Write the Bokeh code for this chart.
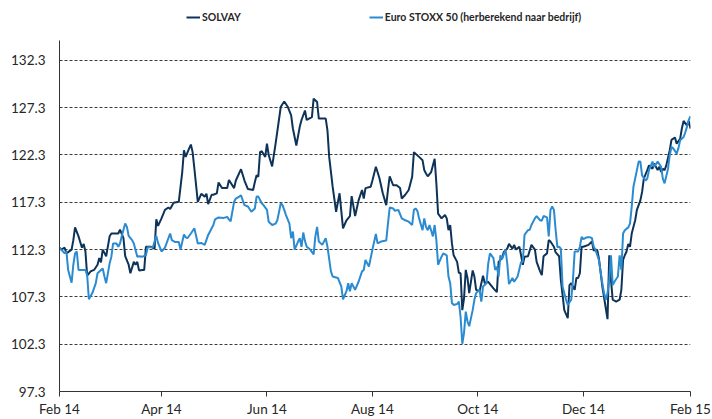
import pandas as pd
from bokeh.plotting import figure
from bokeh.models import Range1d, FixedTicker, Legend, LegendItem, DatetimeTickFormatter
from bokeh.embed import file_html
from bokeh.resources import INLINE

# ---------------- data ----------------
START = "2014-02-01"
END = "2015-02-01"

series_names = ["SOLVAY", "Euro STOXX 50 (herberekend naar bedrijf)"]

# days since START
solvay_days = [0, 1, 3, 4, 7, 8, 9, 11, 13, 14, 15, 16, 18, 20, 22, 23, 24, 25, 27, 29,
               30, 34, 35, 37, 38, 40, 41, 43, 44, 45, 46, 48, 49, 50, 53, 55, 56, 57, 59, 61,
               63, 64, 66, 69, 71, 72, 73, 75, 76, 77, 78, 80, 82, 84, 85, 86, 88, 89, 91, 92,
               94, 97, 98, 101, 102, 105, 107, 109, 112, 113, 114, 115, 116, 117, 119, 120, 121, 123, 125, 128,
               130, 132, 134, 135, 137, 139, 140, 142, 143, 146, 147, 149, 150, 154, 155, 156, 158, 160, 162, 164,
               166, 168, 169, 171, 173, 175, 176, 177, 180, 181, 183, 185, 187, 189, 190, 191, 193, 195, 197, 198,
               200, 202, 204, 205, 208, 210, 211, 212, 213, 215, 217, 218, 219, 221, 223, 224, 225, 226, 227, 228,
               230, 231, 232, 233, 234, 235, 236, 237, 239, 240, 241, 243, 245, 246, 248, 251, 253, 254, 256, 257,
               259, 260, 262, 263, 264, 266, 267, 268, 269, 271, 273, 275, 276, 278, 279, 280, 282, 283, 284, 286,
               287, 289, 290, 292, 294, 295, 296, 298, 299, 300, 301, 302, 303, 306, 308, 309, 311, 312, 314, 316,
               317, 318, 319, 320, 322, 324, 325, 326, 327, 328, 329, 330, 331, 333, 334, 336, 337, 338, 340, 341,
               343, 344, 346, 347, 348, 349, 350, 351, 353, 354, 356, 357, 359, 360, 361, 363, 364, 365]
solvay = [112.5, 112.3, 112.5, 111.9, 112.3, 113.3, 114.65, 113.7, 112.5, 112.9, 112.1, 109.55, 110.0, 110.15, 110.7, 111.4, 110.95, 112.3, 111.6, 113.7,
          114.0, 114.0, 114.4, 113.5, 111.6, 110.7, 109.8, 111.0, 110.7, 111.0, 110.1, 110.15, 110.15, 112.6, 112.6, 112.4, 115.5, 114.8, 115.6, 116.5,
          116.75, 116.6, 117.25, 117.35, 120.5, 122.8, 122.1, 123.0, 123.4, 122.6, 120.9, 117.35, 118.2, 117.9, 118.2, 117.1, 118.1, 118.1, 118.25, 119.4,
          118.8, 118.8, 119.65, 118.8, 119.6, 120.8, 119.6, 118.7, 118.6, 119.45, 120.15, 120.0, 122.6, 122.7, 122.1, 123.5, 122.3, 121.1, 123.5, 127.4,
          127.95, 127.4, 126.5, 125.1, 123.3, 125.3, 126.0, 127.0, 126.0, 126.3, 128.25, 127.9, 126.15, 126.15, 124.9, 122.1, 118.95, 116.3, 118.25, 114.55,
          115.4, 115.85, 117.95, 115.85, 117.5, 118.6, 117.7, 118.8, 118.95, 119.6, 121.05, 119.9, 118.25, 117.0, 118.6, 120.05, 119.1, 119.1, 118.8, 117.7,
          118.1, 118.6, 120.0, 122.6, 122.1, 121.75, 120.7, 120.35, 120.05, 120.5, 121.9, 119.3, 116.1, 115.6, 115.95, 115.6, 114.35, 114.9, 112.95, 111.7,
          111.0, 109.85, 109.8, 105.9, 107.15, 110.15, 109.3, 107.7, 110.1, 109.45, 108.05, 107.9, 109.55, 108.75, 108.9, 108.2, 107.8, 111.0, 111.4, 112.05,
          112.4, 112.9, 112.4, 112.8, 112.3, 112.6, 111.7, 110.7, 111.55, 111.6, 112.8, 112.3, 111.0, 110.0, 109.6, 111.6, 111.9, 113.3, 113.15, 112.6,
          112.0, 111.6, 109.1, 105.9, 105.05, 108.55, 108.75, 108.05, 109.3, 109.3, 109.8, 112.6, 112.6, 112.8, 113.15, 112.2, 112.3, 111.4, 108.4, 106.1,
          104.95, 111.7, 109.1, 107.0, 106.8, 107.0, 108.05, 111.2, 111.7, 112.1, 112.9, 112.6, 114.0, 115.4, 116.5, 117.5, 118.4, 119.8, 120.7, 121.2,
          120.85, 121.4, 120.7, 121.05, 120.5, 120.85, 120.7, 121.2, 122.8, 123.9, 124.15, 123.5, 124.0, 125.1, 125.9, 125.4, 125.9, 125.1]

stoxx_days = [0, 1, 3, 4, 5, 7, 8, 9, 10, 11, 13, 15, 16, 17, 19, 21, 22, 24, 25, 26,
              27, 29, 30, 31, 33, 34, 35, 36, 38, 39, 40, 42, 43, 45, 46, 48, 50, 51, 54, 56,
              57, 59, 61, 64, 65, 67, 69, 70, 72, 73, 74, 76, 78, 80, 82, 84, 86, 89, 90, 92,
              95, 97, 98, 99, 101, 102, 104, 105, 106, 107, 109, 111, 113, 114, 115, 117, 118, 120, 121, 123,
              125, 126, 128, 129, 130, 131, 133, 134, 135, 136, 138, 139, 140, 141, 142, 143, 145, 147, 148, 149,
              150, 152, 154, 155, 157, 158, 161, 163, 164, 166, 167, 168, 169, 171, 173, 175, 176, 177, 179, 181,
              183, 184, 186, 189, 190, 191, 193, 194, 196, 198, 200, 202, 204, 205, 206, 207, 208, 210, 211, 212,
              213, 214, 216, 217, 218, 219, 221, 222, 224, 225, 226, 227, 228, 230, 231, 232, 233, 234, 235, 236,
              237, 239, 240, 241, 243, 244, 245, 247, 248, 249, 251, 252, 253, 254, 255, 256, 258, 259, 260, 262,
              263, 265, 267, 268, 269, 271, 272, 273, 275, 276, 278, 279, 280, 282, 283, 284, 285, 286, 287, 288,
              289, 290, 291, 293, 294, 296, 297, 298, 300, 301, 302, 303, 305, 307, 308, 309, 310, 312, 314, 315,
              316, 317, 318, 319, 320, 321, 323, 324, 325, 326, 327, 329, 330, 331, 332, 334, 335, 336, 337, 339,
              340, 341, 343, 344, 346, 348, 349, 350, 352, 353, 354, 355, 357, 358, 359, 361, 362, 363, 364, 365]
stoxx = [112.5, 112.3, 111.9, 112.1, 110.15, 108.8, 110.7, 111.9, 112.1, 110.15, 110.15, 110.15, 109.6, 107.05, 107.7, 108.75, 109.8, 110.15, 110.3, 109.45,
         108.75, 110.85, 111.55, 112.95, 112.95, 112.6, 112.95, 113.7, 115.05, 114.7, 113.75, 113.3, 112.95, 111.55, 111.6, 111.55, 111.7, 112.55, 112.55, 113.75,
         113.0, 112.1, 112.5, 114.0, 113.3, 113.1, 113.1, 112.3, 113.9, 113.6, 113.5, 114.0, 114.55, 112.95, 113.0, 112.8, 113.85, 114.9, 115.5, 115.7,
         115.65, 115.75, 115.5, 115.3, 117.35, 117.7, 117.9, 118.05, 117.5, 117.0, 116.85, 116.3, 116.65, 117.9, 117.9, 117.2, 117.0, 116.5, 115.25, 114.9,
         115.05, 115.4, 117.2, 117.0, 116.5, 115.95, 115.05, 113.5, 114.2, 112.3, 113.15, 113.5, 112.6, 114.1, 113.2, 112.6, 112.3, 111.8, 113.7, 114.7,
         113.15, 112.8, 113.5, 112.6, 110.0, 109.45, 109.3, 108.4, 107.05, 107.9, 108.75, 107.9, 108.75, 108.05, 108.9, 110.0, 110.15, 111.2, 110.5, 112.3,
         113.95, 112.95, 113.15, 113.25, 115.05, 116.75, 116.65, 116.4, 116.5, 115.6, 115.4, 115.25, 114.9, 116.5, 116.65, 116.4, 115.6, 114.35, 115.6, 114.7,
         114.35, 114.9, 113.7, 114.9, 113.3, 110.7, 111.55, 111.9, 111.7, 109.45, 108.75, 106.65, 106.45, 106.55, 106.8, 105.2, 102.35, 103.5, 105.75, 104.7,
         104.2, 105.9, 107.0, 107.7, 108.05, 106.8, 108.4, 108.75, 110.85, 111.9, 111.4, 110.15, 110.5, 109.45, 111.7, 111.3, 112.3, 110.85, 108.65, 109.3,
         108.9, 109.45, 111.0, 111.0, 113.85, 114.35, 114.4, 114.9, 115.6, 115.85, 115.4, 115.35, 115.85, 115.7, 113.7, 116.5, 116.85, 116.5, 114.35, 112.55,
         112.6, 112.4, 108.4, 107.0, 106.45, 107.0, 109.1, 112.1, 112.1, 112.6, 113.65, 113.4, 113.6, 113.6, 113.5, 112.6, 112.3, 111.2, 108.75, 107.7,
         107.0, 107.7, 109.1, 111.7, 108.55, 108.9, 109.45, 111.7, 110.15, 114.0, 114.35, 114.65, 115.05, 116.85, 118.95, 120.7, 121.6, 121.6, 120.15, 119.6,
         119.8, 120.7, 121.6, 121.05, 121.6, 121.05, 119.8, 119.3, 120.85, 122.3, 123.15, 123.0, 122.45, 123.0, 123.85, 124.2, 124.7, 125.3, 126.0, 126.4]

y_ticks = [97.3, 102.3, 107.3, 112.3, 117.3, 122.3, 127.3, 132.3]
y_labels = ["97.3", "102.3", "107.3", "112.3", "117.3", "122.3", "127.3", "132.3"]
y_axis_top = 134.4
x_tick_dates = ["2014-02-01", "2014-04-01", "2014-06-01", "2014-08-01",
                "2014-10-01", "2014-12-01", "2015-02-01"]
x_tick_labels = ["Feb 14", "Apr 14", "Jun 14", "Aug 14", "Oct 14", "Dec 14", "Feb 15"]

# ---------------- styles ----------------
DARK = "#0e3359"
LIGHT = "#2b8bd1"
FONT = "Lato"
TEXT = "#262626"

base = pd.Timestamp(START)
s_dates = base + pd.to_timedelta(solvay_days, unit="D")
e_dates = base + pd.to_timedelta(stoxx_days, unit="D")

# frame reaches the top of the canvas so the legend can sit inside it;
# the y axis line itself is bounded to the value range
p = figure(width=712, height=419, x_axis_type="datetime",
           output_backend="svg", toolbar_location=None,
           x_range=Range1d(base, pd.Timestamp(END)),
           y_range=Range1d(97.3, 138.63),
           min_border_left=59, min_border_right=22,
           min_border_top=0, min_border_bottom=27)
p.outline_line_color = None
p.background_fill_color = "white"
p.border_fill_color = "white"

r1 = p.line(s_dates, solvay, line_color=DARK, line_width=2)
r2 = p.line(e_dates, stoxx, line_color=LIGHT, line_width=2)

# x axis
x_ticks_ms = [pd.Timestamp(d).value // 10**6 for d in x_tick_dates]
p.xaxis.ticker = FixedTicker(ticks=x_ticks_ms)
p.xaxis.formatter = DatetimeTickFormatter(days="%b %y", months="%b %y", years="%b %y")
p.xaxis.major_label_overrides = {t: l for t, l in zip(x_ticks_ms, x_tick_labels)}
p.xaxis.major_tick_out = 5
p.xaxis.major_tick_in = 0
p.xaxis.minor_tick_out = 0
p.xaxis.minor_tick_in = 0
p.xaxis.major_label_standoff = 4
p.xaxis.axis_line_color = "#333333"
p.xaxis.major_tick_line_color = "#333333"

# y axis
p.yaxis.ticker = FixedTicker(ticks=y_ticks)
p.yaxis.major_label_overrides = {t: l for t, l in zip(y_ticks, y_labels)}
p.yaxis.bounds = (97.3, y_axis_top)
p.yaxis.major_tick_out = 0
p.yaxis.major_tick_in = 0
p.yaxis.minor_tick_out = 0
p.yaxis.minor_tick_in = 0
p.yaxis.major_label_standoff = 14
p.yaxis.axis_line_color = "#333333"

for ax in (p.xaxis[0], p.yaxis[0]):
    ax.major_label_text_font = FONT
    ax.major_label_text_font_size = "13.5px"
    ax.major_label_text_color = TEXT

p.xgrid.visible = False
p.ygrid.grid_line_color = "#3c3c3c"
p.ygrid.grid_line_dash = "3 2"
p.ygrid.grid_line_width = 1

legend = Legend(items=[LegendItem(label=series_names[0], renderers=[r1]),
                       LegendItem(label=series_names[1], renderers=[r2])],
                orientation="horizontal", location=(127, 368),
                spacing=128, padding=0, margin=0,
                glyph_width=14, glyph_height=10, label_height=10,
                label_standoff=2,
                label_text_font=FONT, label_text_font_size="10.5px",
                label_text_font_style="bold", label_text_color=TEXT,
                border_line_color=None, background_fill_alpha=0)
p.add_layout(legend, "center")

open("out.html", "w").write(file_html(p, INLINE))
